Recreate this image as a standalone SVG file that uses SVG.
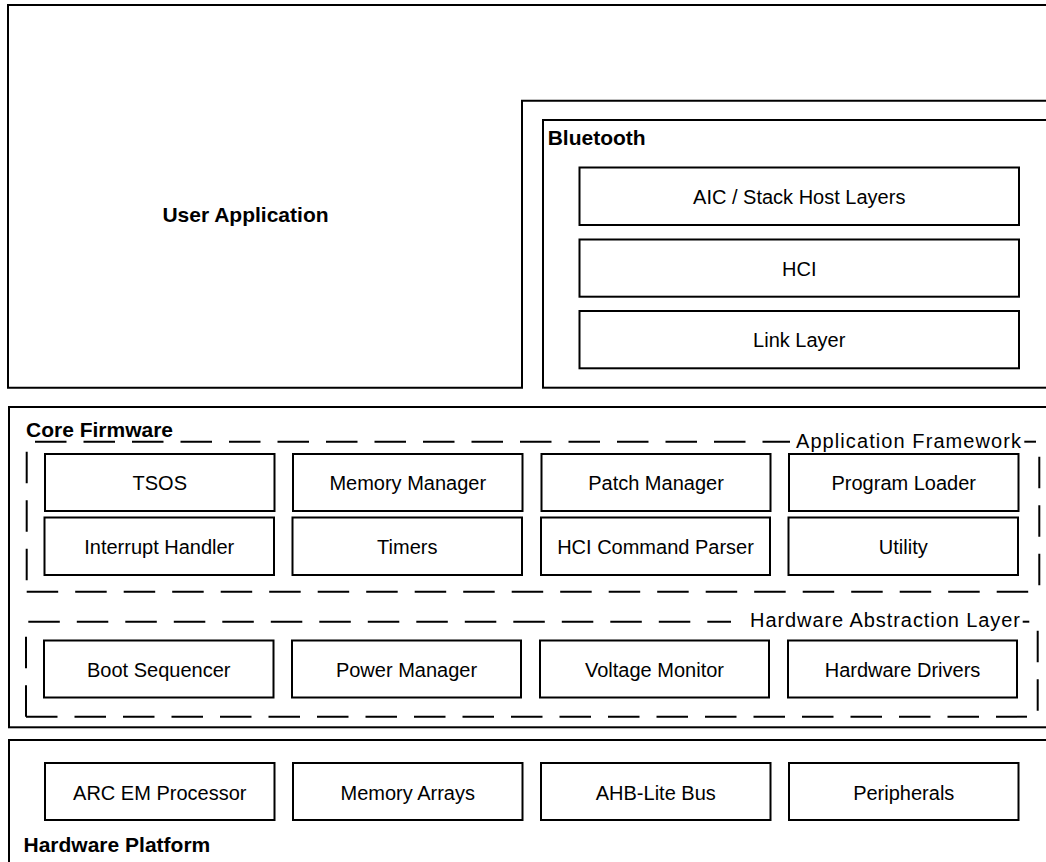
<svg xmlns="http://www.w3.org/2000/svg" width="1046" height="862" viewBox="0 0 1046 862">
<style>
.box{fill:#fff;stroke:#000;stroke-width:2}
.outer{fill:#fff;stroke:#000;stroke-width:2}
.dash{fill:none;stroke:#000;stroke-width:2;stroke-dasharray:31.5 17}
.seg{fill:none;stroke:#000;stroke-width:2}
.t{font-family:"Liberation Sans",Arial,sans-serif;font-size:20px;fill:#000;text-anchor:middle}
.b{font-family:"Liberation Sans",Arial,sans-serif;font-size:21px;font-weight:bold;fill:#000}
.lbl{font-family:"Liberation Sans",Arial,sans-serif;font-size:20px;fill:#000}
</style>
<rect width="1046" height="862" fill="#fff"/>

<g id="user-application">
<path class="outer" d="M8,5 H1060 V100.7 H522 V387.7 H8 Z"/>
<text class="b" x="245.5" y="222" text-anchor="middle">User Application</text>
</g>

<g id="bluetooth">
<rect class="outer" x="543" y="120" width="520" height="267.7"/>
<text class="b" x="547.7" y="145">Bluetooth</text>
</g>
<g id="aic-stack-host-layers">
<rect class="box" x="579.5" y="167.5" width="439.5" height="57.5"/>
<text class="t" x="799.25" y="203.75">AIC / Stack Host Layers</text>
</g>
<g id="hci">
<rect class="box" x="579.5" y="239.5" width="439.5" height="57.2"/>
<text class="t" x="799.25" y="275.6">HCI</text>
</g>
<g id="link-layer">
<rect class="box" x="579.5" y="311" width="439.5" height="57.3"/>
<text class="t" x="799.25" y="347.2">Link Layer</text>
</g>

<g id="core-firmware">
<rect class="outer" x="9" y="407" width="1050" height="320.3"/>
<text class="b" x="26" y="437.3">Core Firmware</text>
</g>

<g id="application-framework">
<line class="dash" x1="35" y1="441.7" x2="790" y2="441.7"/>
<line class="seg" x1="1024.3" y1="441.7" x2="1036" y2="441.7"/>
<line class="dash" x1="1039.3" y1="456.7" x2="1039.3" y2="586"/>
<line class="dash" x1="26.7" y1="591.7" x2="1028.5" y2="591.7"/>
<line class="dash" x1="26.7" y1="451.7" x2="26.7" y2="581"/>
<text class="lbl" x="796" y="447.7" textLength="225" lengthAdjust="spacing">Application Framework</text>
</g>
<g id="tsos"><rect class="box" x="45" y="454" width="229.5" height="57"/><text class="t" x="159.75" y="490">TSOS</text></g>
<g id="memory-manager"><rect class="box" x="293" y="454" width="229.5" height="57"/><text class="t" x="407.75" y="490">Memory Manager</text></g>
<g id="patch-manager"><rect class="box" x="541.5" y="454" width="229" height="57"/><text class="t" x="656" y="490">Patch Manager</text></g>
<g id="program-loader"><rect class="box" x="789" y="454" width="229.5" height="57"/><text class="t" x="903.75" y="490">Program Loader</text></g>
<g id="interrupt-handler"><rect class="box" x="44.5" y="517.5" width="229.5" height="57.5"/><text class="t" x="159.25" y="553.75">Interrupt Handler</text></g>
<g id="timers"><rect class="box" x="292.5" y="517.5" width="229.5" height="57.5"/><text class="t" x="407.25" y="553.75">Timers</text></g>
<g id="hci-command-parser"><rect class="box" x="541" y="517.5" width="229" height="57.5"/><text class="t" x="655.5" y="553.75">HCI Command Parser</text></g>
<g id="utility"><rect class="box" x="788.5" y="517.5" width="229.5" height="57.5"/><text class="t" x="903.25" y="553.75">Utility</text></g>

<g id="hardware-abstraction-layer">
<line class="dash" x1="28.3" y1="621.7" x2="731" y2="621.7"/>
<line class="seg" x1="1022.7" y1="621.7" x2="1029.3" y2="621.7"/>
<line class="dash" x1="1037.7" y1="630.7" x2="1037.7" y2="711"/>
<line class="dash" x1="26" y1="716.7" x2="1027" y2="716.7"/>
<line class="dash" x1="26" y1="716.7" x2="26" y2="636"/>
<text class="lbl" x="750" y="627.3" textLength="270" lengthAdjust="spacing">Hardware Abstraction Layer</text>
</g>
<g id="boot-sequencer"><rect class="box" x="44" y="640.5" width="229.5" height="57"/><text class="t" x="158.75" y="676.8">Boot Sequencer</text></g>
<g id="power-manager"><rect class="box" x="292" y="640.5" width="229" height="57"/><text class="t" x="406.5" y="676.8">Power Manager</text></g>
<g id="voltage-monitor"><rect class="box" x="540" y="640.5" width="229" height="57"/><text class="t" x="654.5" y="676.8">Voltage Monitor</text></g>
<g id="hardware-drivers"><rect class="box" x="788" y="640.5" width="229" height="57"/><text class="t" x="902.5" y="676.8">Hardware Drivers</text></g>

<g id="hardware-platform">
<rect class="outer" x="9" y="740" width="1050" height="140"/>
<text class="b" x="23.5" y="851.5">Hardware Platform</text>
</g>
<g id="arc-em-processor"><rect class="box" x="45" y="763" width="229.5" height="57"/><text class="t" x="159.75" y="799.5">ARC EM Processor</text></g>
<g id="memory-arrays"><rect class="box" x="293" y="763" width="229.5" height="57"/><text class="t" x="407.75" y="799.5">Memory Arrays</text></g>
<g id="ahb-lite-bus"><rect class="box" x="541" y="763" width="229.5" height="57"/><text class="t" x="655.75" y="799.5">AHB-Lite Bus</text></g>
<g id="peripherals"><rect class="box" x="789" y="763" width="229.5" height="57"/><text class="t" x="903.75" y="799.5">Peripherals</text></g>

<g id="connectors"></g>
</svg>
